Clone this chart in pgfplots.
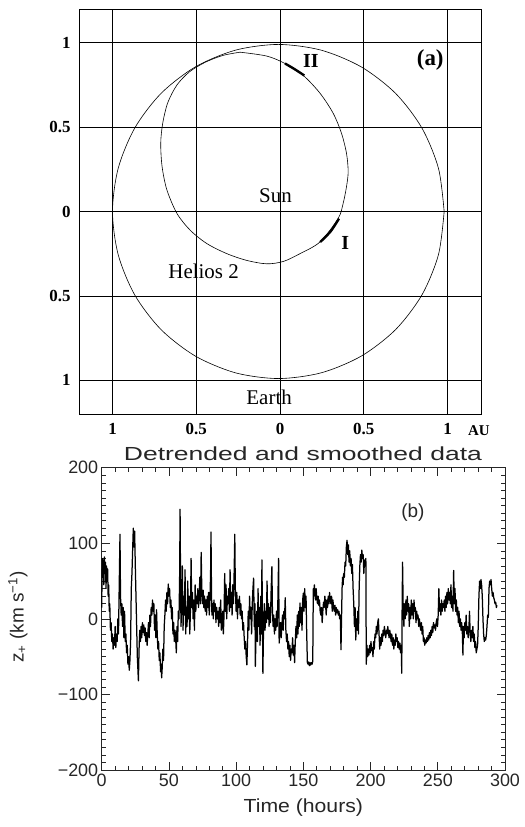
\documentclass[border=0pt]{standalone}
\usepackage{fontspec}
\setmainfont{Liberation Serif}
\newfontfamily\idl{Liberation Sans}
\usepackage{graphicx}
\usepackage{pgfplots}
\pgfplotsset{compat=1.18}

\begin{document}
\begin{tikzpicture}
\path[use as bounding box] (0bp,0bp) rectangle (525bp,827bp);

% ---------------- (a) orbits ----------------
\begin{axis}[
  at={(79bp,413bp)}, anchor=south west, scale only axis,
  width=402bp, height=405bp,
  xmin=-1.2, xmax=1.2, ymin=-1.2, ymax=1.2,
  xtick={-1,-0.5,0,0.5,1}, ytick={-1,-0.5,0,0.5,1},
  xticklabels={1,0.5,0,0.5,1}, yticklabels={1,0.5,0,0.5,1},
  major tick length=0pt,
  grid=major, major grid style={black, line width=0.6bp},
  axis line style={black, line width=0.8bp},
  tick label style={font=\fontsize{17}{17}\selectfont\bfseries},
  xticklabel style={yshift=-6bp},
  yticklabel style={xshift=-5bp},
  clip=false,
]
% Earth orbit
\addplot[black, line width=0.6bp, smooth] coordinates {
  (0.980,0) (0.946,0.256) (0.847,0.495) (0.690,0.700) (0.485,0.857)
  (0.246,0.956) (-0.010,0.990) (-0.266,0.956) (-0.505,0.857) (-0.710,0.700)
  (-0.867,0.495) (-0.966,0.256) (-1.000,0) (-0.966,-0.256) (-0.867,-0.495)
  (-0.710,-0.700) (-0.505,-0.857) (-0.266,-0.956) (-0.010,-0.990) (0.246,-0.956)
  (0.485,-0.857) (0.690,-0.700) (0.847,-0.495) (0.946,-0.256) (0.980,0)
};
% Helios 2 orbit
\addplot[black, line width=0.6bp, smooth] coordinates {
  (-0.238,0.944) (-0.079,0.921) (0.030,0.877) (0.139,0.806) (0.238,0.702)
  (0.317,0.583) (0.367,0.464) (0.397,0.345) (0.407,0.236) (0.397,0.147)
  (0.377,0.048) (0.347,-0.042) (0.238,-0.181) (0.119,-0.250) (0.020,-0.296)
  (-0.079,-0.310) (-0.198,-0.290) (-0.317,-0.250) (-0.437,-0.190) (-0.536,-0.111)
  (-0.615,-0.012) (-0.675,0.127) (-0.704,0.266) (-0.712,0.405) (-0.700,0.524)
  (-0.670,0.645) (-0.615,0.750) (-0.540,0.828) (-0.445,0.885) (-0.340,0.925)
  (-0.238,0.944)
};
% data intervals
\addplot[black, line width=2.4bp, smooth] coordinates {(0.030,0.877) (0.088,0.843) (0.145,0.806)};
\addplot[black, line width=2.4bp, smooth] coordinates {(0.352,-0.042) (0.303,-0.117) (0.240,-0.181)};
\node[font=\fontsize{20}{20}\selectfont\bfseries] at (axis cs:0.185,0.889) {II};
\node[font=\fontsize{20}{20}\selectfont\bfseries] at (axis cs:0.39,-0.188) {I};
\node[font=\fontsize{23}{23}\selectfont\bfseries] at (axis cs:0.897,0.899) {(a)};
\node[font=\fontsize{21}{21}\selectfont] at (axis cs:-0.027,0.093) {Sun};
\node[font=\fontsize{21}{21}\selectfont] at (axis cs:-0.456,-0.355) {Helios 2};
\node[font=\fontsize{21}{21}\selectfont] at (axis cs:-0.065,-1.102) {Earth};
\node[font=\fontsize{15}{15}\selectfont\bfseries] at (rel axis cs:0.995,-0.041) {AU};
\end{axis}

% ---------------- (b) z+ time series ----------------
\begin{axis}[
  at={(101.7bp,57bp)}, anchor=south west, scale only axis,
  width=403.3bp, height=302.3bp,
  xmin=0, xmax=300, ymin=-200, ymax=200,
  xtick={0,50,...,300}, ytick={-200,-100,0,100,200},
  yticklabels={−200,−100,0,100,200},
  minor x tick num=4, minor y tick num=9,
  tick align=inside, tick pos=both,
  major tick length=8bp, minor tick length=4bp,
  tick style={black!85, line width=0.6bp},
  axis line style={black!85, line width=0.8bp},
  tick label style={font=\idl\fontsize{18}{18}\selectfont, text=black!85},
  /pgf/number format/assume math mode=true,
  title={\scalebox{1.4}[1]{Detrended and smoothed data}},
  title style={font=\idl\fontsize{19}{19}\selectfont, text=black!85,
    at={(rel axis cs:0.499,1.026)}, anchor=center},
  xlabel={\scalebox{1.12}[1]{Time (hours)}},
  xlabel style={font=\idl\fontsize{19}{19}\selectfont, text=black!85,
    at={(rel axis cs:0.5,-0.126)}, anchor=center},
  ylabel={z\textsubscript{+} (km s\textsuperscript{−1})},
  ylabel style={font=\idl\fontsize{19}{19}\selectfont, text=black!85,
    at={(rel axis cs:-0.2075,0.506)}, anchor=center, rotate=0},
  clip=false,
]
\addplot[black, line width=1.25bp, line join=round] coordinates {
(0,15) (0.4,80) (0.8,55) (1.2,78) (1.6,45) (2.0,82) (2.4,60) (2.8,75) (3.2,40) (3.6,70)
(4.0,55) (4.4,66) (4.8,30) (5.2,45) (5.6,10) (6.0,20) (6.5,-15) (7.0,-5) (7.5,-30) (8.0,-20)
(8.5,-40) (9.0,-25) (9.5,-35) (10.0,-10) (10.5,-38) (11.0,-20) (11.5,-30) (12.0,0) (12.5,-20) (13.0,40)
(13.6,112) (14.0,30) (14.5,5) (15.0,20) (15.5,-10) (16.0,15) (16.5,-25) (17.0,10) (17.5,-30) (18.0,-20)
(18.5,-45) (19.0,-35) (19.5,-60) (20.0,-50) (20.5,-68) (21.0,-55) (21.5,-30) (22.0,40) (22.5,60) (23.0,90)
(23.5,120) (24.0,95) (24.5,116) (25.0,70) (25.5,30) (26.0,-10) (26.5,-50) (27.0,-70) (27.3,-82) (27.8,-40)
(28.3,-15) (28.8,-30) (29.3,-10) (29.8,-25) (30.3,-5) (30.8,-18) (31.3,-8) (31.8,-22) (32.3,-12) (32.8,-30)
(33.3,-18) (33.8,-35) (34.3,-20) (34.8,-5) (35.3,-25) (35.8,5) (36.3,-10) (36.8,15) (37.3,5) (37.8,25)
(38.3,10) (38.8,20) (39.3,-15) (39.8,5) (40.3,-25) (40.8,12) (41.3,-20) (41.8,-40) (42.3,-30) (42.8,-55)
(43.3,-45) (43.8,-70) (44.3,-60) (44.6,-78) (45.0,-65) (45.5,-40) (46.0,-55) (46.5,-10) (47.0,5) (47.5,25)
(48.0,10) (48.5,35) (49.0,20) (49.5,46) (50.0,30) (50.5,40) (51.0,15) (51.5,25) (52.0,0) (52.5,15)
(53.0,-20) (53.5,-5) (54.0,-30) (54.5,-15) (55.0,-25) (55.5,-45) (56.0,-10) (56.5,-30) (57.0,10) (57.5,0)
(58.0,60) (58.3,145) (58.7,40) (59.0,-10) (59.5,20) (60.0,70) (60.5,-15) (61.0,30) (61.5,5) (62.0,65)
(62.5,-20) (63.0,15) (63.5,-10) (64.0,50) (64.5,0) (65.0,30) (65.5,-20) (66.0,10) (66.5,80) (67.0,15)
(67.5,35) (68.0,0) (68.5,25) (69.0,-15) (69.5,45) (70.0,10) (70.5,30) (71.0,20) (71.5,40) (72.0,15)
(72.5,30) (73.0,55) (73.5,20) (74.0,88) (74.5,35) (75.0,20) (75.5,38) (76.0,15) (76.5,30) (77.0,10)
(77.5,25) (78.0,5) (78.5,30) (79.0,15) (79.5,35) (80.0,5) (80.5,25) (81.0,60) (81.3,115) (81.7,30)
(82.0,5) (82.5,20) (83.0,0) (83.5,25) (84.0,10) (84.5,20) (85.0,-5) (85.5,15) (86.0,0) (86.5,10)
(87.0,-10) (87.5,15) (88.0,-5) (88.5,25) (89.0,-15) (89.5,-10) (90.0,10) (90.5,-20) (91.0,5) (91.5,60)
(92.0,10) (92.5,45) (93.0,0) (93.5,30) (94.0,20) (94.5,40) (95.0,10) (95.5,65) (96.0,15) (96.5,35)
(97.0,5) (97.5,45) (98.0,20) (98.5,60) (99.0,112) (99.4,40) (100.0,10) (100.5,35) (101.0,0) (101.5,25)
(102.0,15) (102.5,30) (103.0,5) (103.5,20) (104.0,0) (104.5,10) (105.0,-15) (105.5,-5) (106.0,-25) (106.5,-40)
(107.0,-30) (107.5,-50) (108.0,-61) (108.5,-30) (109.0,10) (109.5,-15) (110.0,30) (110.5,0) (111.0,15) (111.5,-20)
(112.0,20) (112.5,40) (113.0,54) (113.5,-10) (114.0,20) (114.3,-63) (114.8,-20) (115.3,10) (115.8,-30) (116.3,40)
(116.8,-10) (117.3,15) (117.8,-35) (118.3,30) (118.8,-20) (119.2,78) (119.9,-72) (120.4,-10) (121.0,20) (121.5,-15)
(122.0,10) (122.5,-5) (123.0,50) (123.5,0) (124.0,20) (124.5,-10) (125.0,15) (125.5,-5) (126.0,35) (126.6,69)
(127.0,10) (127.5,-10) (128.0,5) (128.5,-20) (129.0,0) (129.5,-15) (130.0,10) (130.5,-10) (131.0,20) (131.6,80)
(132.0,-32) (132.5,-20) (133.0,-5) (133.5,-25) (134.0,-10) (134.5,5) (135.0,-15) (135.5,10) (136.0,0) (136.5,28)
(137.0,-15) (137.5,-30) (138.0,-20) (138.5,-40) (139.0,-30) (139.5,-50) (140.0,-35) (140.5,-55) (141.0,-40) (141.5,-45)
(142.0,-25) (142.5,-48) (143.0,-35) (143.5,-58) (144.0,-30) (144.5,-10) (145.0,-25) (145.5,5) (146.0,-20) (146.5,10)
(147.0,-10) (147.5,21) (148.0,-5) (148.5,15) (149.0,-15) (149.5,25) (150.0,34) (150.5,10) (151.0,40) (151.5,15)
(152.0,30) (152.5,-20) (153.0,-58) (153.5,-60) (154.0,-57) (154.5,-62) (155.0,-58) (155.5,-61) (156.0,-58) (156.5,-60)
(157.0,-56) (157.4,40) (157.8,30) (158.2,45) (158.6,35) (159.0,25) (159.5,40) (160.0,28) (160.5,20) (161.0,30)
(161.5,18) (162.0,25) (162.5,10) (163.0,5) (163.5,15) (164.0,-5) (164.5,10) (165.0,22) (165.5,15) (166.0,30)
(166.5,20) (167.0,5) (167.5,25) (168.0,15) (168.5,30) (169.0,20) (169.5,35) (170.0,25) (170.5,20) (171.0,30)
(171.5,10) (172.0,25) (172.5,15) (173.0,10) (173.5,18) (174.0,5) (174.5,15) (175.0,8) (175.5,12) (176.0,5)
(176.5,10) (177.0,0) (177.5,5) (178.0,-41) (178.4,0) (178.8,40) (179.2,55) (179.6,45) (180.0,60) (180.5,55)
(181.0,75) (181.5,70) (182.0,95) (182.5,104) (183.0,85) (183.5,98) (184.0,75) (184.5,90) (185.0,70) (185.5,80)
(186.0,60) (186.5,72) (187.0,40) (187.5,20) (188.0,-10) (188.5,15) (189.0,-28) (189.5,0) (190.0,-15) (190.5,10)
(191.0,-20) (191.5,40) (192.0,70) (192.5,85) (193.0,75) (193.5,91) (194.0,80) (194.5,85) (195.0,60) (195.5,78)
(196.0,70) (196.5,80) (196.8,-60) (197.3,-35) (197.8,-50) (198.3,-40) (198.8,-48) (199.3,-35) (199.8,-45) (200.3,-30)
(200.8,-42) (201.3,-38) (201.8,-50) (202.3,-30) (202.8,-40) (203.3,-20) (203.8,-25) (204.3,-10) (204.8,-20) (205.3,-5)
(205.8,0) (206.3,-20) (206.8,-40) (207.3,-25) (207.8,-35) (208.3,-20) (208.8,-30) (209.3,-15) (209.8,-22) (210.3,-10)
(210.8,-18) (211.3,-25) (211.8,-15) (212.3,-20) (212.8,-10) (213.3,-18) (213.8,-25) (214.3,-15) (214.8,-22) (215.3,-30)
(215.8,-20) (216.3,-35) (216.8,-25) (217.3,-40) (217.8,-28) (218.3,-35) (218.8,-20) (219.3,-30) (219.8,-25) (220.3,-38)
(220.8,-30) (221.3,-40) (221.8,-32) (222.3,-45) (222.8,-35) (223.2,-72) (223.5,20) (223.8,75) (224.3,10) (224.8,-10)
(225.3,20) (225.8,0) (226.3,25) (226.8,5) (227.3,30) (227.8,10) (228.3,20) (228.8,-10) (229.3,15) (229.8,0)
(230.3,25) (230.8,5) (231.3,20) (231.8,0) (232.3,25) (232.8,10) (233.3,15) (233.8,-5) (234.3,10) (234.8,0)
(235.3,5) (235.8,-10) (236.3,0) (236.8,-8) (237.3,-15) (237.8,-5) (238.3,-20) (238.8,-10) (239.3,-30) (239.8,-25)
(240.3,-35) (240.8,-28) (241.3,-32) (241.8,-25) (242.3,-30) (242.8,-22) (243.3,-28) (243.8,-18) (244.3,-25) (244.8,-15)
(245.3,-22) (245.8,-10) (246.3,-18) (246.8,-5) (247.3,-12) (247.8,-8) (248.3,-15) (248.8,-5) (249.3,0) (249.8,-10)
(250.3,5) (250.8,40) (251.3,10) (251.8,20) (252.3,5) (252.8,25) (253.3,10) (253.8,20) (254.3,15) (254.8,25)
(255.3,10) (255.8,30) (256.3,15) (256.8,35) (257.3,20) (257.8,40) (258.3,25) (258.8,35) (259.3,20) (259.8,45)
(260.3,15) (260.8,30) (261.3,10) (261.8,64) (262.3,20) (262.8,40) (263.3,10) (263.8,25) (264.3,5) (264.8,15)
(265.3,-5) (265.8,10) (266.3,-10) (266.8,0) (267.3,-15) (267.8,-5) (268.3,-20) (268.7,-48) (269.1,-10) (269.6,-25)
(270.1,-5) (270.6,-15) (271.1,5) (271.6,-20) (272.1,-10) (272.6,-25) (273.1,-15) (273.6,10) (274.1,-20) (274.6,-30)
(275.1,-15) (275.6,-25) (276.1,-10) (276.6,-30) (277.1,-20) (277.6,-38) (278.1,-30) (278.6,-45) (279.1,-40) (279.6,-35)
(280.1,-10) (280.6,30) (281.1,50) (281.6,40) (282.1,52) (282.6,45) (283.1,30) (283.6,0) (284.1,-20) (284.6,-30)
(285.1,-25) (285.6,-28) (286.1,-22) (286.6,-10) (287.1,5) (287.6,2) (288.1,40) (288.6,50) (289.1,45) (289.6,52)
(290.1,40) (290.6,30) (291.1,35) (291.6,28) (292.1,25) (292.6,20) (293.1,22) (293.6,15) (294.0,18)
};
\node[font=\idl\fontsize{19}{19}\selectfont, text=black!85] at (axis cs:231.5,140) {(b)};
\end{axis}
\end{tikzpicture}
\end{document}
